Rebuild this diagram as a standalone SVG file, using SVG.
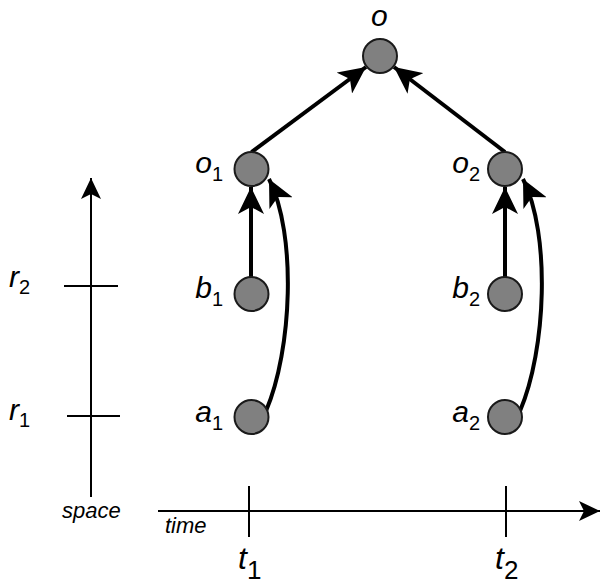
<svg xmlns="http://www.w3.org/2000/svg" width="602" height="583" viewBox="0 0 602 583">
<style>
.node{fill:#808080;stroke:#1a1a1a;stroke-width:2}
.axis{stroke:#000;stroke-width:2;fill:none}
.edge{stroke:#000;stroke-width:4;fill:none}
.lbl{font-family:"Liberation Sans",Arial,sans-serif;font-style:italic;font-size:30px;fill:#000}
.sub{font-style:normal;font-size:20px}
.end{text-anchor:end}
.tl{font-family:"Liberation Sans",Arial,sans-serif;font-style:italic;font-size:32px;fill:#000}
.tsub{font-style:normal;font-size:26px}
.small{font-family:"Liberation Sans",Arial,sans-serif;font-style:italic;font-size:22px;fill:#000}
</style>
<defs>
<marker id="ah" markerUnits="userSpaceOnUse" viewBox="0 0 27 26" refX="27" refY="13" markerWidth="27" markerHeight="26" orient="auto">
<path d="M0,0 L27,13 L0,26 L7,13 z" fill="#000"/>
</marker>
<marker id="ax" markerUnits="userSpaceOnUse" viewBox="0 0 21 20" refX="21" refY="10" markerWidth="21" markerHeight="20" orient="auto">
<path d="M0,0 L21,10 L0,20 L5,10 z" fill="#000"/>
</marker>
</defs>
<g id="axes">
<line class="axis" x1="91" y1="497" x2="91" y2="178" marker-end="url(#ax)"/>
<line class="axis" x1="64" y1="286" x2="118" y2="286"/>
<line class="axis" x1="67" y1="416" x2="120" y2="416"/>
<line class="axis" x1="158" y1="511" x2="600" y2="511" marker-end="url(#ax)"/>
<line class="axis" x1="249" y1="486" x2="249" y2="537"/>
<line class="axis" x1="506" y1="486" x2="506" y2="537"/>
<text class="small" x="62" y="518">space</text>
<text class="small" x="165" y="533">time</text>
<text class="tl" x="238" y="569">t<tspan class="tsub" dy="10">1</tspan></text>
<text class="tl" x="495" y="569">t<tspan class="tsub" dy="10">2</tspan></text>
<text class="lbl" x="9" y="287">r<tspan class="sub" dy="7">2</tspan></text>
<text class="lbl" x="9" y="420">r<tspan class="sub" dy="7">1</tspan></text>
</g>
<g id="edges">
<line class="edge" x1="251.5" y1="152" x2="366" y2="67" marker-end="url(#ah)"/>
<line class="edge" x1="505" y1="152" x2="394" y2="67" marker-end="url(#ah)"/>
<line class="edge" x1="251" y1="277" x2="251" y2="187" marker-end="url(#ah)"/>
<line class="edge" x1="505" y1="277" x2="505" y2="187" marker-end="url(#ah)"/>
<path class="edge" d="M266,411 C292,350 297,235 269,179" marker-end="url(#ah)"/>
<path class="edge" d="M520,411 C546,350 551,235 523,179" marker-end="url(#ah)"/>
</g>
<g id="node-o"><circle class="node" cx="380" cy="56" r="17"/><text class="lbl" x="371" y="26">o</text></g>
<g id="node-o1"><circle class="node" cx="251.5" cy="169" r="17"/><text class="lbl end" x="223" y="173">o<tspan class="sub" dy="8">1</tspan></text></g>
<g id="node-b1"><circle class="node" cx="251.5" cy="294" r="17"/><text class="lbl end" x="223" y="298">b<tspan class="sub" dy="8">1</tspan></text></g>
<g id="node-a1"><circle class="node" cx="251.5" cy="417" r="17"/><text class="lbl end" x="223" y="422">a<tspan class="sub" dy="8">1</tspan></text></g>
<g id="node-o2"><circle class="node" cx="505" cy="169" r="17"/><text class="lbl end" x="480" y="173">o<tspan class="sub" dy="8">2</tspan></text></g>
<g id="node-b2"><circle class="node" cx="505" cy="294" r="17"/><text class="lbl end" x="480" y="298">b<tspan class="sub" dy="8">2</tspan></text></g>
<g id="node-a2"><circle class="node" cx="505" cy="417" r="17"/><text class="lbl end" x="480" y="422">a<tspan class="sub" dy="8">2</tspan></text></g>
</svg>
